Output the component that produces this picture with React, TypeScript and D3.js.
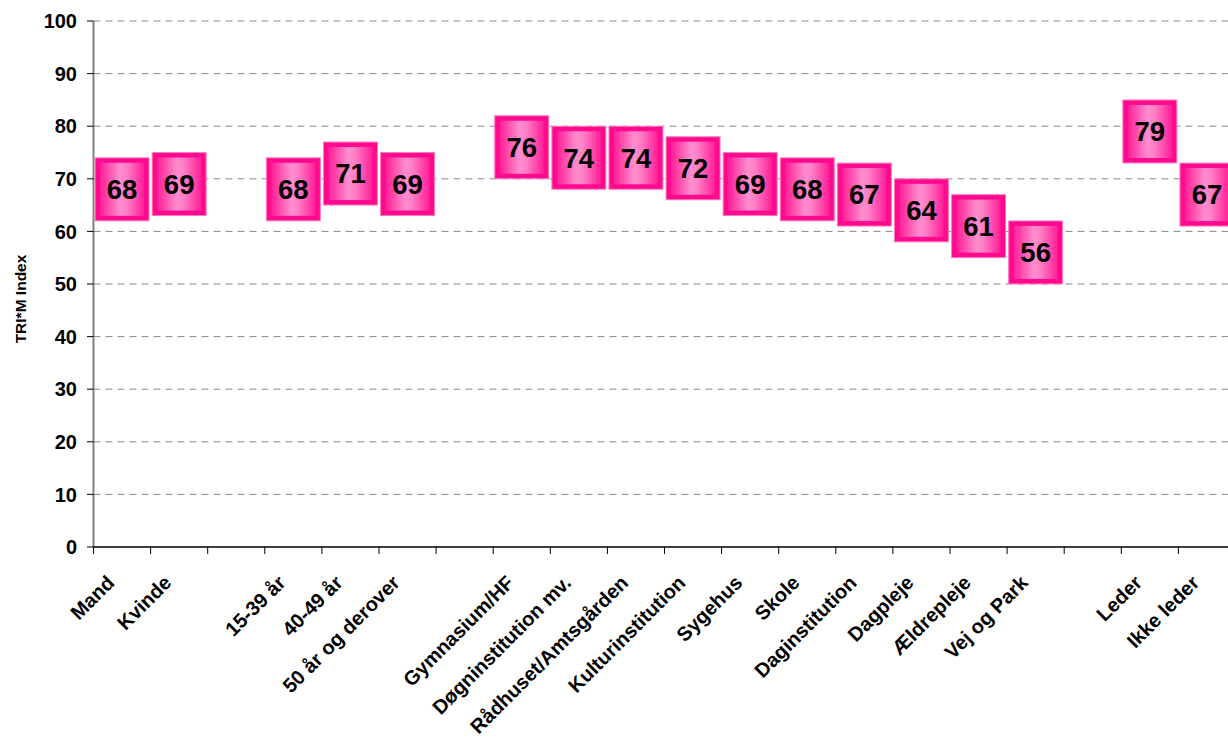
import React from "react";
import * as d3 from "d3";

const categories: string[] = [
  "Mand", "Kvinde", "",
  "15-39 år", "40-49 år", "50 år og derover", "",
  "Gymnasium/HF", "Døgninstitution mv.", "Rådhuset/Amtsgården", "Kulturinstitution",
  "Sygehus", "Skole", "Daginstitution", "Dagpleje", "Ældrepleje", "Vej og Park", "",
  "Leder", "Ikke leder",
];
const values: (number | null)[] = [
  68, 69, null,
  68, 71, 69, null,
  76, 74, 74, 72, 69, 68, 67, 64, 61, 56, null,
  79, 67,
];
const yTicks: number[] = [0, 10, 20, 30, 40, 50, 60, 70, 80, 90, 100];
const yTitle = "TRI*M Index";

const W = 1228;
const H = 740;
const FONT = "'Liberation Sans', Arial, Helvetica, sans-serif";

export default function App() {
  const x = d3
    .scaleBand<number>()
    .domain(categories.map((_, i) => i))
    .range([93.5, 1235.5])
    .padding(0);
  const y = d3.scaleLinear().domain([0, 100]).range([547, 21]);
  const bw = x.bandwidth();
  const boxW = 54;
  const boxH = 63;
  const border = 5;

  return (
    <div style={{ position: "fixed", left: 0, top: 0, width: W, height: H, background: "#fff" }}>
      <svg width={W} height={H} style={{ display: "block" }}>
        <defs>
          <linearGradient id="boxGrad" x1="0" y1="0" x2="1" y2="0">
            <stop offset="0" stopColor="#FF1E97" />
            <stop offset="0.45" stopColor="#FF8DCE" />
            <stop offset="0.6" stopColor="#FF80C7" />
            <stop offset="1" stopColor="#FF1E97" />
          </linearGradient>
        </defs>
        {yTicks.filter((t) => t > 0).map((t) => (
          <line key={"g" + t} x1={93.5} x2={W} y1={y(t)} y2={y(t)} stroke="#8a8a8a" strokeWidth={1} strokeDasharray="7,5" />
        ))}
        <line x1={93.5} x2={93.5} y1={y(100)} y2={y(0)} stroke="#808080" strokeWidth={2} />
        {yTicks.map((t) => (
          <g key={"yt" + t}>
            <line x1={87} x2={93.5} y1={y(t)} y2={y(t)} stroke="#000" strokeWidth={1} />
            <text x={77} y={y(t)} dy="0.36em" textAnchor="end" fontFamily={FONT} fontWeight="bold" fontSize={20} fill="#000">
              {t}
            </text>
          </g>
        ))}
        <line x1={93.5} x2={W} y1={y(0)} y2={y(0)} stroke="#000" strokeWidth={1.5} />
        {categories.map((_, i) => (
          <line key={"xt" + i} x1={x(i)!} x2={x(i)!} y1={y(0)} y2={y(0) + 7} stroke="#000" strokeWidth={1} />
        ))}
        {categories.map((c, i) =>
          c ? (
            <text
              key={"xl" + i}
              transform={`translate(${x(i)! + bw / 2 - 6.5},${584}) rotate(-45)`}
              textAnchor="end"
              fontFamily={FONT}
              fontWeight="bold"
              fontSize={20}
              fill="#000"
            >
              {c}
            </text>
          ) : null
        )}
        <text
          transform={`translate(26,299) rotate(-90)`}
          textAnchor="middle"
          fontFamily={FONT}
          fontWeight="bold"
          fontSize={15.5}
          fill="#000"
        >
          {yTitle}
        </text>
        {values.map((v, i) => {
          if (v === null) return null;
          const cx = x(i)! + bw / 2;
          const cy = y(v);
          return (
            <g key={"m" + i}>
              <rect x={cx - boxW / 2} y={cy - boxH / 2} width={boxW} height={boxH} fill="#FF0A8F" stroke="#FF7EC2" strokeWidth={1} />
              <rect
                x={cx - boxW / 2 + border}
                y={cy - boxH / 2 + border}
                width={boxW - 2 * border}
                height={boxH - 2 * border}
                fill="url(#boxGrad)"
              />
              <text x={cx} y={cy} dy="0.36em" textAnchor="middle" fontFamily={FONT} fontWeight="bold" fontSize={27.5} fill="#000">
                {v}
              </text>
            </g>
          );
        })}
      </svg>
    </div>
  );
}
